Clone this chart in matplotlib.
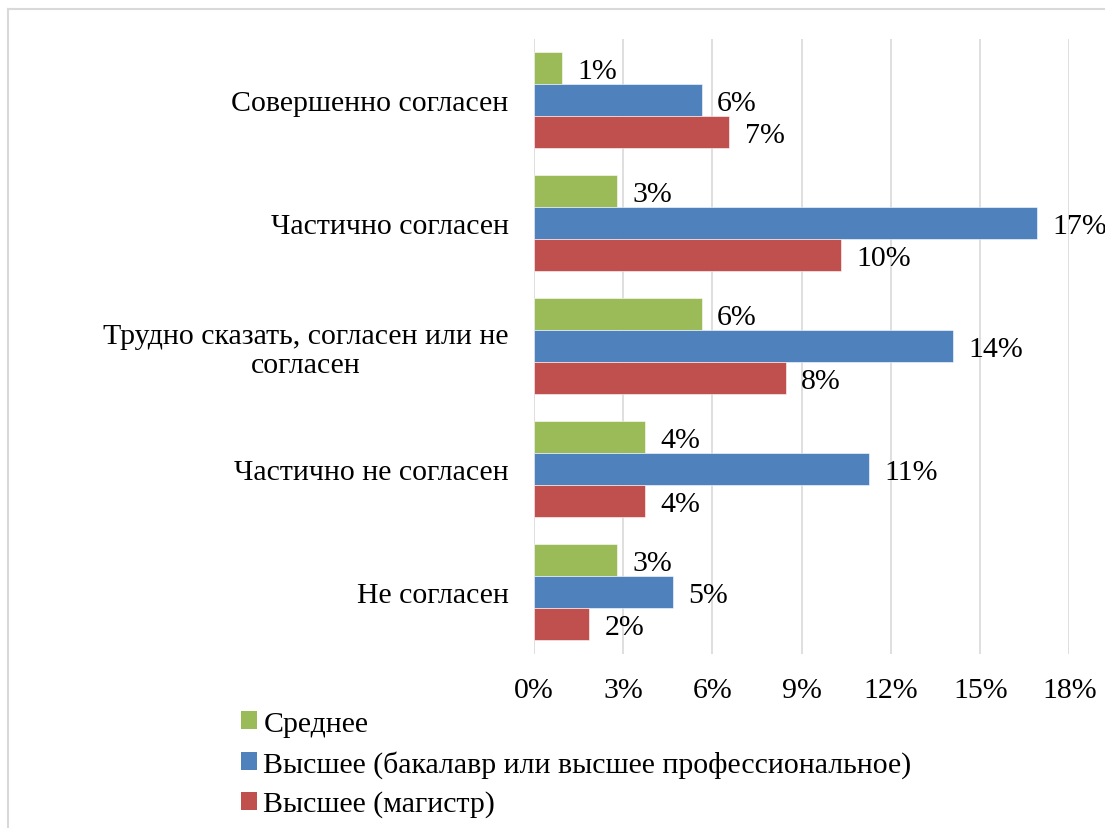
import matplotlib
matplotlib.use("Agg")
import matplotlib.pyplot as plt
from matplotlib.patches import Patch
from matplotlib.lines import Line2D
import numpy as np

plt.rcParams['font.family'] = ['Liberation Serif', 'DejaVu Serif']

categories = [
    "Совершенно согласен",
    "Частично согласен",
    "Трудно сказать, согласен или не\nсогласен",
    "Частично не согласен",
    "Не согласен",
]
series_names = [
    "Среднее",
    "Высшее (бакалавр или высшее профессиональное)",
    "Высшее (магистр)",
]
secondary = [0.94, 2.81, 5.64, 3.75, 2.81]
bachelor = [5.64, 16.90, 14.09, 11.26, 4.69]
master = [6.57, 10.32, 8.46, 3.75, 1.87]
x_ticks = [0, 3, 6, 9, 12, 15, 18]

colors = ["#9BBB59", "#4F81BD", "#C0504D"]
W, H = 1105, 829
fig = plt.figure(figsize=(W / 100, H / 100), dpi=100)
ax = fig.add_axes([533.7 / W, 1 - 654.5 / H, (1069.5 - 533.7) / W, (654.5 - 39.5) / H])

fs = 21.5
y = np.arange(len(categories))
bh = 0.262
for i, (vals, c) in enumerate(zip([secondary, bachelor, master], colors)):
    pos = y + (i - 1) * bh
    ax.barh(pos, vals, height=bh, color=c, edgecolor="white", linewidth=0.4, zorder=3)
    for p, v in zip(pos, vals):
        ax.annotate(f"{v:.0f}%", (v, p), xytext=(11, 0), textcoords="offset points",
                    ha="left", va="center_baseline", fontsize=fs, color="black")

ax.set_ylim(len(categories) - 0.5, -0.5)
ax.set_xlim(0, 18)
ax.set_xticks(x_ticks)
ax.set_xticklabels([f"{t}%" for t in x_ticks], fontsize=fs)
ax.set_yticks(y)
ax.set_yticklabels(categories, fontsize=fs, multialignment="center", linespacing=1.15)
ax.tick_params(axis="both", length=0)
ax.tick_params(axis="x", pad=17)
ax.tick_params(axis="y", pad=18)
ax.grid(axis="x", color="#D9D9D9", linewidth=1.2, zorder=0)
ax.set_axisbelow(True)
for s in ax.spines.values():
    s.set_visible(False)

handles = [Patch(facecolor=c, edgecolor="none") for c in colors]
fig.legend(handles, series_names, loc="upper left",
           bbox_to_anchor=(241 / W, 1 - 712 / H), frameon=False, fontsize=fs,
           handlelength=0.55, handleheight=0.55, handletextpad=0.2,
           labelspacing=0.43, borderpad=0, borderaxespad=0)

# outer frame of the chart area
fig.add_artist(Line2D([8 / W, 8 / W], [0, 1 - 10 / H], transform=fig.transFigure,
                      color="#D9D9D9", linewidth=1.5))
fig.add_artist(Line2D([8 / W, 1], [1 - 10 / H, 1 - 10 / H], transform=fig.transFigure,
                      color="#D9D9D9", linewidth=1.5))

fig.savefig("out.png", dpi=100, facecolor="white")
